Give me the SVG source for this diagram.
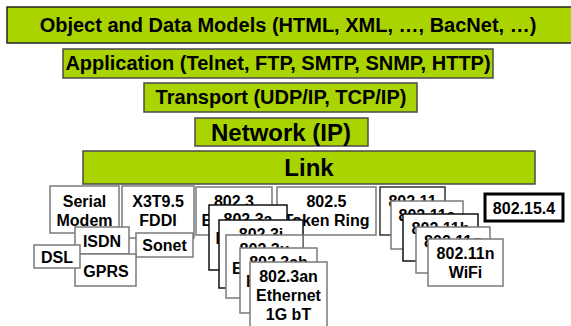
<svg xmlns="http://www.w3.org/2000/svg" width="571" height="326" viewBox="0 0 571 326">
<style>
.bar{fill:#aad400;stroke:#4a4a4a;stroke-width:1.5}
.bt{font-family:"Liberation Sans",Arial,sans-serif;font-weight:bold;fill:#000;text-anchor:middle}
.box{fill:#fff;stroke:#7a7a7a;stroke-width:1.5}
.boxd{fill:#fff;stroke:#111;stroke-width:1.5}
.t{font-family:"Liberation Sans",Arial,sans-serif;font-weight:bold;font-size:16px;fill:#000;text-anchor:middle}
</style>
<rect width="571" height="326" fill="#fff"/>
<g id="layer-objects"><rect class="bar" x="7" y="7" width="570" height="36" style="stroke:#222"/><text class="bt" x="288" y="32" font-size="20">Object and Data Models (HTML, XML, …, BacNet, …)</text></g>
<g id="layer-application"><rect class="bar" x="63" y="49" width="430" height="29"/><text class="bt" x="278" y="70" font-size="20">Application (Telnet, FTP, SMTP, SNMP, HTTP)</text></g>
<g id="layer-transport"><rect class="bar" x="144" y="83" width="273" height="29"/><text class="bt" x="281" y="104" font-size="20">Transport (UDP/IP, TCP/IP)</text></g>
<g id="layer-network"><rect class="bar" x="195" y="118" width="173" height="28"/><text class="bt" x="281" y="141" font-size="24">Network (IP)</text></g>
<g id="layer-link"><rect class="bar" x="83" y="151" width="452" height="33"/><text class="bt" x="309" y="176" font-size="24">Link</text></g>
<g id="connectors"></g>
<g id="serial"><rect class="box" x="50" y="186" width="69" height="47"/><text class="t" x="84.5" y="207">Serial</text><text class="t" x="84.5" y="226">Modem</text></g>
<g id="fddi"><rect class="box" x="122" y="186" width="72" height="52"/><text class="t" x="158" y="207">X3T9.5</text><text class="t" x="158" y="226">FDDI</text></g>
<g id="isdn"><rect class="box" x="75" y="227" width="54" height="27"/><text class="t" x="102" y="247">ISDN</text></g>
<g id="sonet"><rect class="box" x="136" y="233" width="57" height="24"/><text class="t" x="164.5" y="251">Sonet</text></g>
<g id="gprs"><rect class="box" x="75" y="254" width="61" height="32"/><text class="t" x="106" y="277">GPRS</text></g>
<g id="dsl"><rect class="box" x="34" y="245" width="46" height="23"/><text class="t" x="57" y="263">DSL</text></g>
<g id="e8023"><rect class="box" x="196" y="187" width="76" height="48"/><text class="t" x="234" y="207">802.3</text><text class="t" x="234" y="226">Ethernet</text></g>
<g id="e8025"><rect class="box" x="277" y="187" width="99" height="48"/><text class="t" x="326.5" y="207">802.5</text><text class="t" x="326.5" y="226">Token Ring</text></g>
<g id="e8023a"><rect class="boxd" x="209" y="205" width="78" height="65"/><text class="t" x="248" y="225">802.3a</text><text class="t" x="248" y="244">Ethernet</text></g>
<g id="e8023i"><rect class="boxd" x="219" y="220" width="84" height="68"/><text class="t" x="261" y="240">802.3i</text><text class="t" x="261" y="259">Ethernet</text></g>
<g id="e8023u"><rect class="box" x="226" y="235" width="77" height="63"/><text class="t" x="264.5" y="255">802.3u</text><text class="t" x="264.5" y="274">Ethernet</text></g>
<g id="e8023ab"><rect class="box" x="240" y="248" width="77" height="65"/><text class="t" x="278.5" y="268">802.3ab</text><text class="t" x="278.5" y="287">Ethernet</text></g>
<g id="e8023an"><rect class="box" x="250" y="262" width="77" height="70"/><text class="t" x="288.5" y="282">802.3an</text><text class="t" x="288.5" y="301">Ethernet</text><text class="t" x="288.5" y="320">1G bT</text></g>
<g id="w80211"><rect class="box" x="380" y="187" width="65" height="48" style="stroke:#333"/><text class="t" x="412.5" y="207">802.11</text></g>
<g id="w80211a"><rect class="box" x="391" y="201" width="72" height="48"/><text class="t" x="427" y="221">802.11a</text></g>
<g id="w80211b"><rect class="boxd" x="403" y="214" width="75" height="47"/><text class="t" x="440.5" y="234">802.11b</text></g>
<g id="w80211g"><rect class="box" x="416" y="227" width="74" height="46"/><text class="t" x="453" y="247">802.11g</text></g>
<g id="w80211n"><rect class="box" x="428" y="239" width="75" height="47"/><text class="t" x="465.5" y="259">802.11n</text><text class="t" x="465.5" y="278">WiFi</text></g>
<g id="z802154"><rect x="485" y="194" width="78" height="27" fill="#fff" stroke="#000" stroke-width="3"/><text class="t" x="524" y="214">802.15.4</text></g>
</svg>
